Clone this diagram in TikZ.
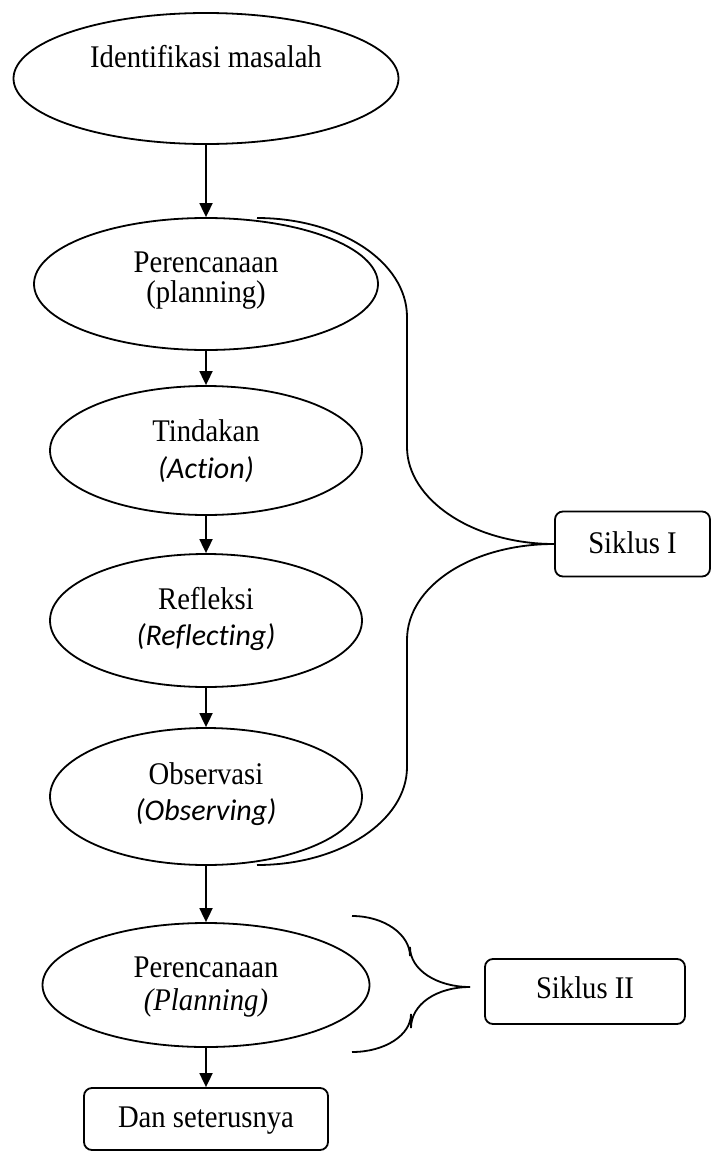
\documentclass[tikz,border=0pt]{standalone}
\usepackage{fontspec}
\setmainfont[FakeStretch=0.91]{Liberation Serif}
\newfontfamily\calib[Ligatures={NoCommon}]{Carlito}
\usetikzlibrary{arrows.meta,shapes.geometric}
\begin{document}
\begin{tikzpicture}[x=1pt,y=-1pt,line width=1.8pt,
  ell/.style={draw,ellipse,inner sep=0pt},
  rbox/.style={draw,rectangle,rounded corners=8pt,inner sep=0pt},
  txt/.style={inner sep=0pt,anchor=base,font=\fontsize{31.5}{34}\selectfont},
  itx/.style={txt,font=\fontsize{30}{33}\selectfont\calib\itshape},
  arr/.style={-{Triangle[length=14pt,width=13pt]}}]
\path[use as bounding box] (0,0) rectangle (712,1151);
% ellipses
\node[ell,minimum width=385pt,minimum height=131pt] (e1) at (206,78.5) {};
\node[ell,minimum width=344pt,minimum height=132pt] (e2) at (206,284) {};
\node[ell,minimum width=312pt,minimum height=129pt] (e3) at (206,450.5) {};
\node[ell,minimum width=312pt,minimum height=133pt] (e4) at (206,620.5) {};
\node[ell,minimum width=312pt,minimum height=137pt] (e5) at (206,796.5) {};
\node[ell,minimum width=327pt,minimum height=124pt] (e6) at (206,985) {};
\node[rbox,minimum width=244pt,minimum height=62pt] (dan) at (206,1119) {};
\node[rbox,minimum width=155pt,minimum height=65pt] (s1) at (632.5,544) {};
\node[rbox,minimum width=200pt,minimum height=65pt] (s2) at (585,991.5) {};
% texts
\node[txt] (t1) at (206,67) {Identifikasi masalah};
\node[txt] (t2a) at (206,272) {Perencanaan};
\node[txt] (t2b) at (206,302) {(planning)};
\node[txt] (t3a) at (206,441) {Tindakan};
\node[itx] (t3b) at (206,478) {(Action)};
\node[txt] (t4a) at (206,609) {Refleksi};
\node[itx] (t4b) at (206,645) {(Reflecting)};
\node[txt] (t5a) at (206,784) {Observasi};
\node[itx] (t5b) at (206,820) {(Observing)};
\node[txt] (t6a) at (206,977) {Perencanaan};
\node[txt,font=\fontsize{31.5}{34}\selectfont\itshape] (t6b) at (206,1010) {(Planning)};
\node[txt] (tdan) at (206,1127) {Dan seterusnya};
\node[txt] (ts1) at (632.5,553) {Siklus I};
\node[txt] (ts2) at (585,998) {Siklus II};
% arrows
\draw[arr] (e1.south) -- (e2.north);
\draw[arr] (e2.south) -- (e3.north);
\draw[arr] (e3.south) -- (e4.north);
\draw[arr] (e4.south) -- (e5.north);
\draw[arr] (e5.south) -- (e6.north);
\draw[arr] (e6.south) -- (dan.north);
% Siklus I brace
\coordinate (c1s) at (257,218);
\coordinate (c1e) at (257,865);
\draw (c1s) .. controls (340,218) and (407,262) .. (407,317) -- (407,447)
  .. controls (407,499) and (472,544) .. (s1.west);
\draw (s1.west) .. controls (472,544) and (407,586) .. (407,640) -- (407,767)
  .. controls (407,821) and (340,865) .. (c1e);
% Siklus II brace
\coordinate (b2t) at (352,916);
\coordinate (b2tip) at (470,987);
\coordinate (b2b) at (352,1052);
\draw (b2t) .. controls (385,916) and (410,935) .. (410,956) -- (410,947)
  .. controls (410,970) and (437,987) .. (b2tip);
\draw (b2tip) .. controls (437,987) and (411,1004) .. (411,1028) -- (411,1014)
  .. controls (411,1035) and (385,1052) .. (b2b);
\end{tikzpicture}
\end{document}
